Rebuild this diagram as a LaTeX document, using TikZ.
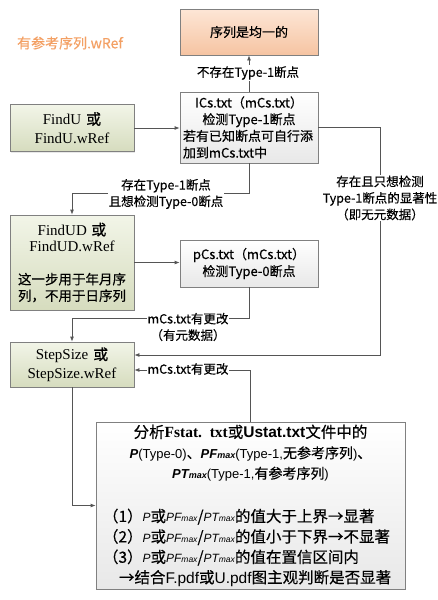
\documentclass[tikz,border=0pt]{standalone}
\usepackage{fontspec}
\setmainfont{Noto Sans CJK SC}[FakeBold=0.35]
\newfontfamily\cjk{Noto Sans CJK SC}[FakeBold=0.35]
\newfontfamily\lserif{Liberation Serif}
\newfontfamily\lsans{Liberation Sans}
\usetikzlibrary{arrows.meta,shadows,calc}

\definecolor{boxline}{RGB}{128,128,128}
\definecolor{linecol}{RGB}{85,85,85}
\definecolor{greentop}{RGB}{242,245,232}
\definecolor{greenbot}{RGB}{214,220,190}
\definecolor{peachtop}{RGB}{253,230,214}
\definecolor{peachbot}{RGB}{246,196,162}
\definecolor{titleorange}{RGB}{243,160,100}

\newcommand{\fsz}[2]{\fontsize{#1}{#2}\selectfont}
% italic P-values in the list lines
\newcommand{\pit}[1]{{\lsans\itshape\fsz{12}{12}#1}}
\newcommand{\msub}{{\lsans\itshape\fsz{8.5}{8.5}max}}
% bold italic P-values in the header lines
\newcommand{\bpit}[1]{{\lsans\bfseries\itshape\fsz{13}{13}#1}}
\newcommand{\bmsub}{{\lsans\bfseries\itshape\fsz{9}{9}max}}

\begin{document}
\begin{tikzpicture}[x=1pt,y=1pt,yscale=-1,xscale=1,
  box/.style={draw=boxline,line width=0.8pt,minimum width=138pt,inner sep=2pt,
    drop shadow={shadow xshift=1.2pt,shadow yshift=-1.2pt,fill=black!18}},
  graybox/.style={box,top color=white,bottom color=black!9},
  greenbox/.style={box,top color=greentop,bottom color=greenbot,minimum width=124pt},
  peachbox/.style={box,top color=peachtop,bottom color=peachbot},
  link/.style={draw=linecol,line width=0.8pt,-{Latex[length=5pt,width=4pt]}},
  lbl/.style={fill=white,inner sep=1pt,align=center,font=\fsz{12.5}{16.5}}]
\path[use as bounding box] (0,0) rectangle (438,600);

% Text Node
\node[text=titleorange,font=\fsz{14}{16}] (title) at (70,43) {有参考序列.wRef};

% Boxes
\node[peachbox,minimum height=46pt,font=\fsz{13}{16}] (uniform) at (249,32) {序列是均一的};
\node[graybox,minimum height=71pt,text width=132pt,align=left,font=\fsz{13}{16.7}] (ics) at (249,127.5)
  {\makebox[\linewidth]{ICs.txt（mCs.txt）}\\
   \makebox[\linewidth]{检测Type-1断点}\\
   若有已知断点可自行添\\
   加到mCs.txt中};
\node[greenbox,minimum height=47pt,text width=118pt,align=center,font=\lserif\fsz{15}{19}] (findu) at (72,128)
  {FindU {\cjk 或}\\FindU.wRef};
\node[greenbox,minimum height=95pt,text width=118pt,align=center,font=\fsz{13.5}{16.5}] (findud) at (72,262.5)
  {{\lserif\fsz{15}{19}FindUD {\cjk 或}\\FindUD.wRef}\\[16pt]
   这一步用于年月序\\列，不用于日序列};
\node[graybox,minimum height=47pt,text width=132pt,align=center,font=\fsz{13}{17}] (pcs) at (249,263.5)
  {pCs.txt（mCs.txt）\\检测Type-0断点};
\node[greenbox,minimum height=45pt,text width=118pt,align=center,font=\lserif\fsz{15}{18.5}] (stepsize) at (72,364.5)
  {StepSize {\cjk 或}\\StepSize.wRef};
\node[graybox,minimum width=309pt,minimum height=167pt,text width=295pt,align=left,font=\fsz{15.5}{20.4}] (analysis) at (250.5,505.5)
  {\makebox[\linewidth]{分析{\lserif\bfseries Fstat. txt}或{\lsans\bfseries Ustat.txt}文件中的}\\
   \makebox[\linewidth]{\fsz{14}{20.4}\bpit{P}{\lsans\fsz{13}{13}(Type-0)}、\bpit{PF}\bmsub{\lsans\fsz{13}{13}(Type-1,}无参考序列{\lsans\fsz{13}{13})}、}\\
   \makebox[\linewidth]{\fsz{14}{20.4}\bpit{PT}\bmsub{\lsans\fsz{13}{13}(Type-1,}有参考序列{\lsans\fsz{13}{13})}}\\[23pt]
   （1）\pit{P}或\pit{PF}\msub/\pit{PT}\msub 的值大于上界→显著\\
   （2）\pit{P}或\pit{PF}\msub/\pit{PT}\msub 的值小于下界→不显著\\
   （3）\pit{P}或\pit{PF}\msub/\pit{PT}\msub 的值在置信区间内\\
   \hspace*{16pt}→结合{\lsans F.pdf}或{\lsans U.pdf}图主观判断是否显著};

% Connection
\draw[link] (ics) -- (uniform);
\draw[link] (findu.east) -- (findu.east -| ics.west);
\draw[link] (ics.south) -- ++(0,30) -| (findud.north);
\draw[link] (ics.east) -- ++(62,0) |- ($(stepsize.east)+(0,-9.5)$);
\draw[link] (findud.east) -- (findud.east -| pcs.west);
\draw[link] (pcs.south) -- ++(0,31) -| (stepsize.north);
\draw[link] (analysis.north) |- ($(stepsize.east)+(0,5.5)$);
\draw[link] (stepsize.south) |- (analysis.west);

% Text Node
\node[lbl] (nobreak) at (248,73) {不存在Type-1断点};
\node[lbl] (withbreak) at (166,194) {存在Type-1断点\\且想检测Type-0断点};
\node[lbl] (onlysig) at (380,198) {存在且只想检测\\Type-1断点的显著性\\（即无元数据）};
\node[lbl] (meta) at (188,327) {mCs.txt有更改\\（有元数据）};
\node[lbl] (changed) at (188,369) {mCs.txt有更改};

\end{tikzpicture}
\end{document}
